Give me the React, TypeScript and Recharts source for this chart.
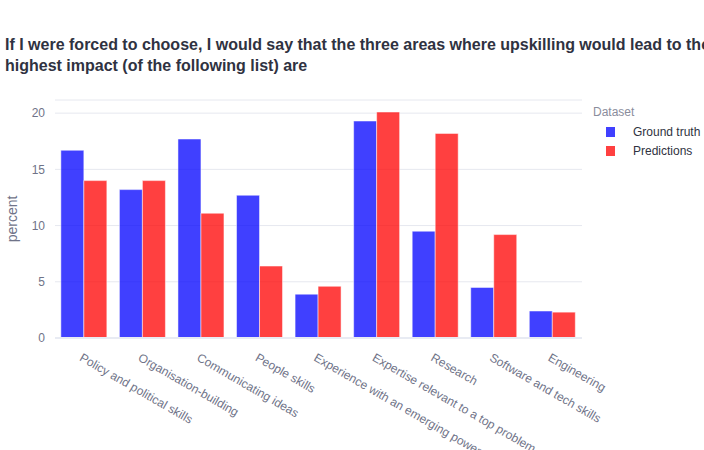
import React from "react";
import {
  BarChart,
  Bar,
  XAxis,
  YAxis,
  CartesianGrid,
  ReferenceLine,
} from "recharts";

const categories = [
  "Policy and political skills",
  "Organisation-building",
  "Communicating ideas",
  "People skills",
  "Experience with an emerging power",
  "Expertise relevant to a top problem",
  "Research",
  "Software and tech skills",
  "Engineering",
];

const groundTruth = [16.7, 13.2, 17.7, 12.7, 3.9, 19.3, 9.5, 4.5, 2.4];
const predictions = [14.0, 14.0, 11.1, 6.4, 4.6, 20.1, 18.2, 9.2, 2.3];

const yTicks = [0, 5, 10, 15, 20];

const titleLines = [
  "If I were forced to choose, I would say that the three areas where upskilling would lead to the",
  "highest impact (of the following list) are",
];

const legendItems = [
  { label: "Ground truth", color: "rgba(0,0,255,0.75)" },
  { label: "Predictions", color: "rgba(255,0,0,0.75)" },
];

const data = categories.map((name, i) => ({
  name,
  truth: groundTruth[i],
  pred: predictions[i],
}));

const FONT = '"Liberation Sans", Arial, Helvetica, sans-serif';
const TICK_COLOR = "#6f7388";
const DARK = "#2f3241";

function XTick({ x, y, payload }: any) {
  const px = x - 5.5;
  const py = y + 22;
  return (
    <text
      x={px}
      y={py}
      transform={`rotate(30 ${px} ${py})`}
      textAnchor="start"
      fontSize={12}
      fontFamily={FONT}
      fill={TICK_COLOR}
    >
      {payload.value}
    </text>
  );
}

function YLabel() {
  return (
    <text
      x={17}
      y={219}
      transform="rotate(-90 17 219)"
      textAnchor="middle"
      fontSize={14}
      fontFamily={FONT}
      fill={TICK_COLOR}
    >
      percent
    </text>
  );
}

function LegendBox() {
  return (
    <div
      style={{
        position: "absolute",
        left: 593,
        top: 103,
        fontFamily: FONT,
        fontSize: 12,
      }}
    >
      <div style={{ color: "#8a8d9c", height: 19, lineHeight: "19px" }}>Dataset</div>
      {legendItems.map((it) => (
        <div
          key={it.label}
          style={{ display: "flex", alignItems: "center", height: 19, color: DARK }}
        >
          <span
            style={{
              display: "inline-block",
              width: 9,
              height: 10,
              background: it.color,
              marginLeft: 13,
              marginRight: 18,
            }}
          />
          {it.label}
        </div>
      ))}
    </div>
  );
}

export default function App() {
  return (
    <div
      style={{
        position: "absolute",
        left: 0,
        top: 0,
        width: 704,
        height: 450,
        overflow: "hidden",
        background: "#fff",
      }}
    >
      <svg
        width={704}
        height={90}
        style={{ position: "absolute", left: 0, top: 0 }}
      >
        {titleLines.map((line, i) => (
          <text
            key={i}
            x={5}
            y={50 + i * 20.5}
            fontSize={16}
            fontWeight="bold"
            fontFamily={FONT}
            fill={DARK}
          >
            {line}
          </text>
        ))}
      </svg>
      <BarChart
        width={704}
        height={450}
        data={data}
        margin={{ top: 100, right: 122, bottom: 82, left: 10 }}
        barCategoryGap="10%"
        barGap={0}
        style={{ position: "absolute", left: 0, top: 0 }}
      >
        <CartesianGrid vertical={false} stroke="#e6e8ef" />
        <XAxis
          dataKey="name"
          height={30}
          interval={0}
          tickSize={0}
          tickMargin={0}
          axisLine={false}
          tickLine={false}
          tick={<XTick />}
        />
        <YAxis
          width={45}
          domain={[0, 21.17]}
          ticks={yTicks}
          tickSize={0}
          tickMargin={10}
          axisLine={false}
          tickLine={false}
          tick={{ fill: TICK_COLOR, fontSize: 12, fontFamily: FONT }}
          label={<YLabel />}
        />
        <ReferenceLine y={0} stroke="#e8ebf3" strokeWidth={2} />
        <Bar
          dataKey="truth"
          name="Ground truth"
          fill="#0000ff"
          fillOpacity={0.75}
          stroke="#ffffff"
          strokeWidth={0.5}
          isAnimationActive={false}
        />
        <Bar
          dataKey="pred"
          name="Predictions"
          fill="#ff0000"
          fillOpacity={0.75}
          stroke="#ffffff"
          strokeWidth={0.5}
          isAnimationActive={false}
        />
      </BarChart>
      <LegendBox />
    </div>
  );
}
